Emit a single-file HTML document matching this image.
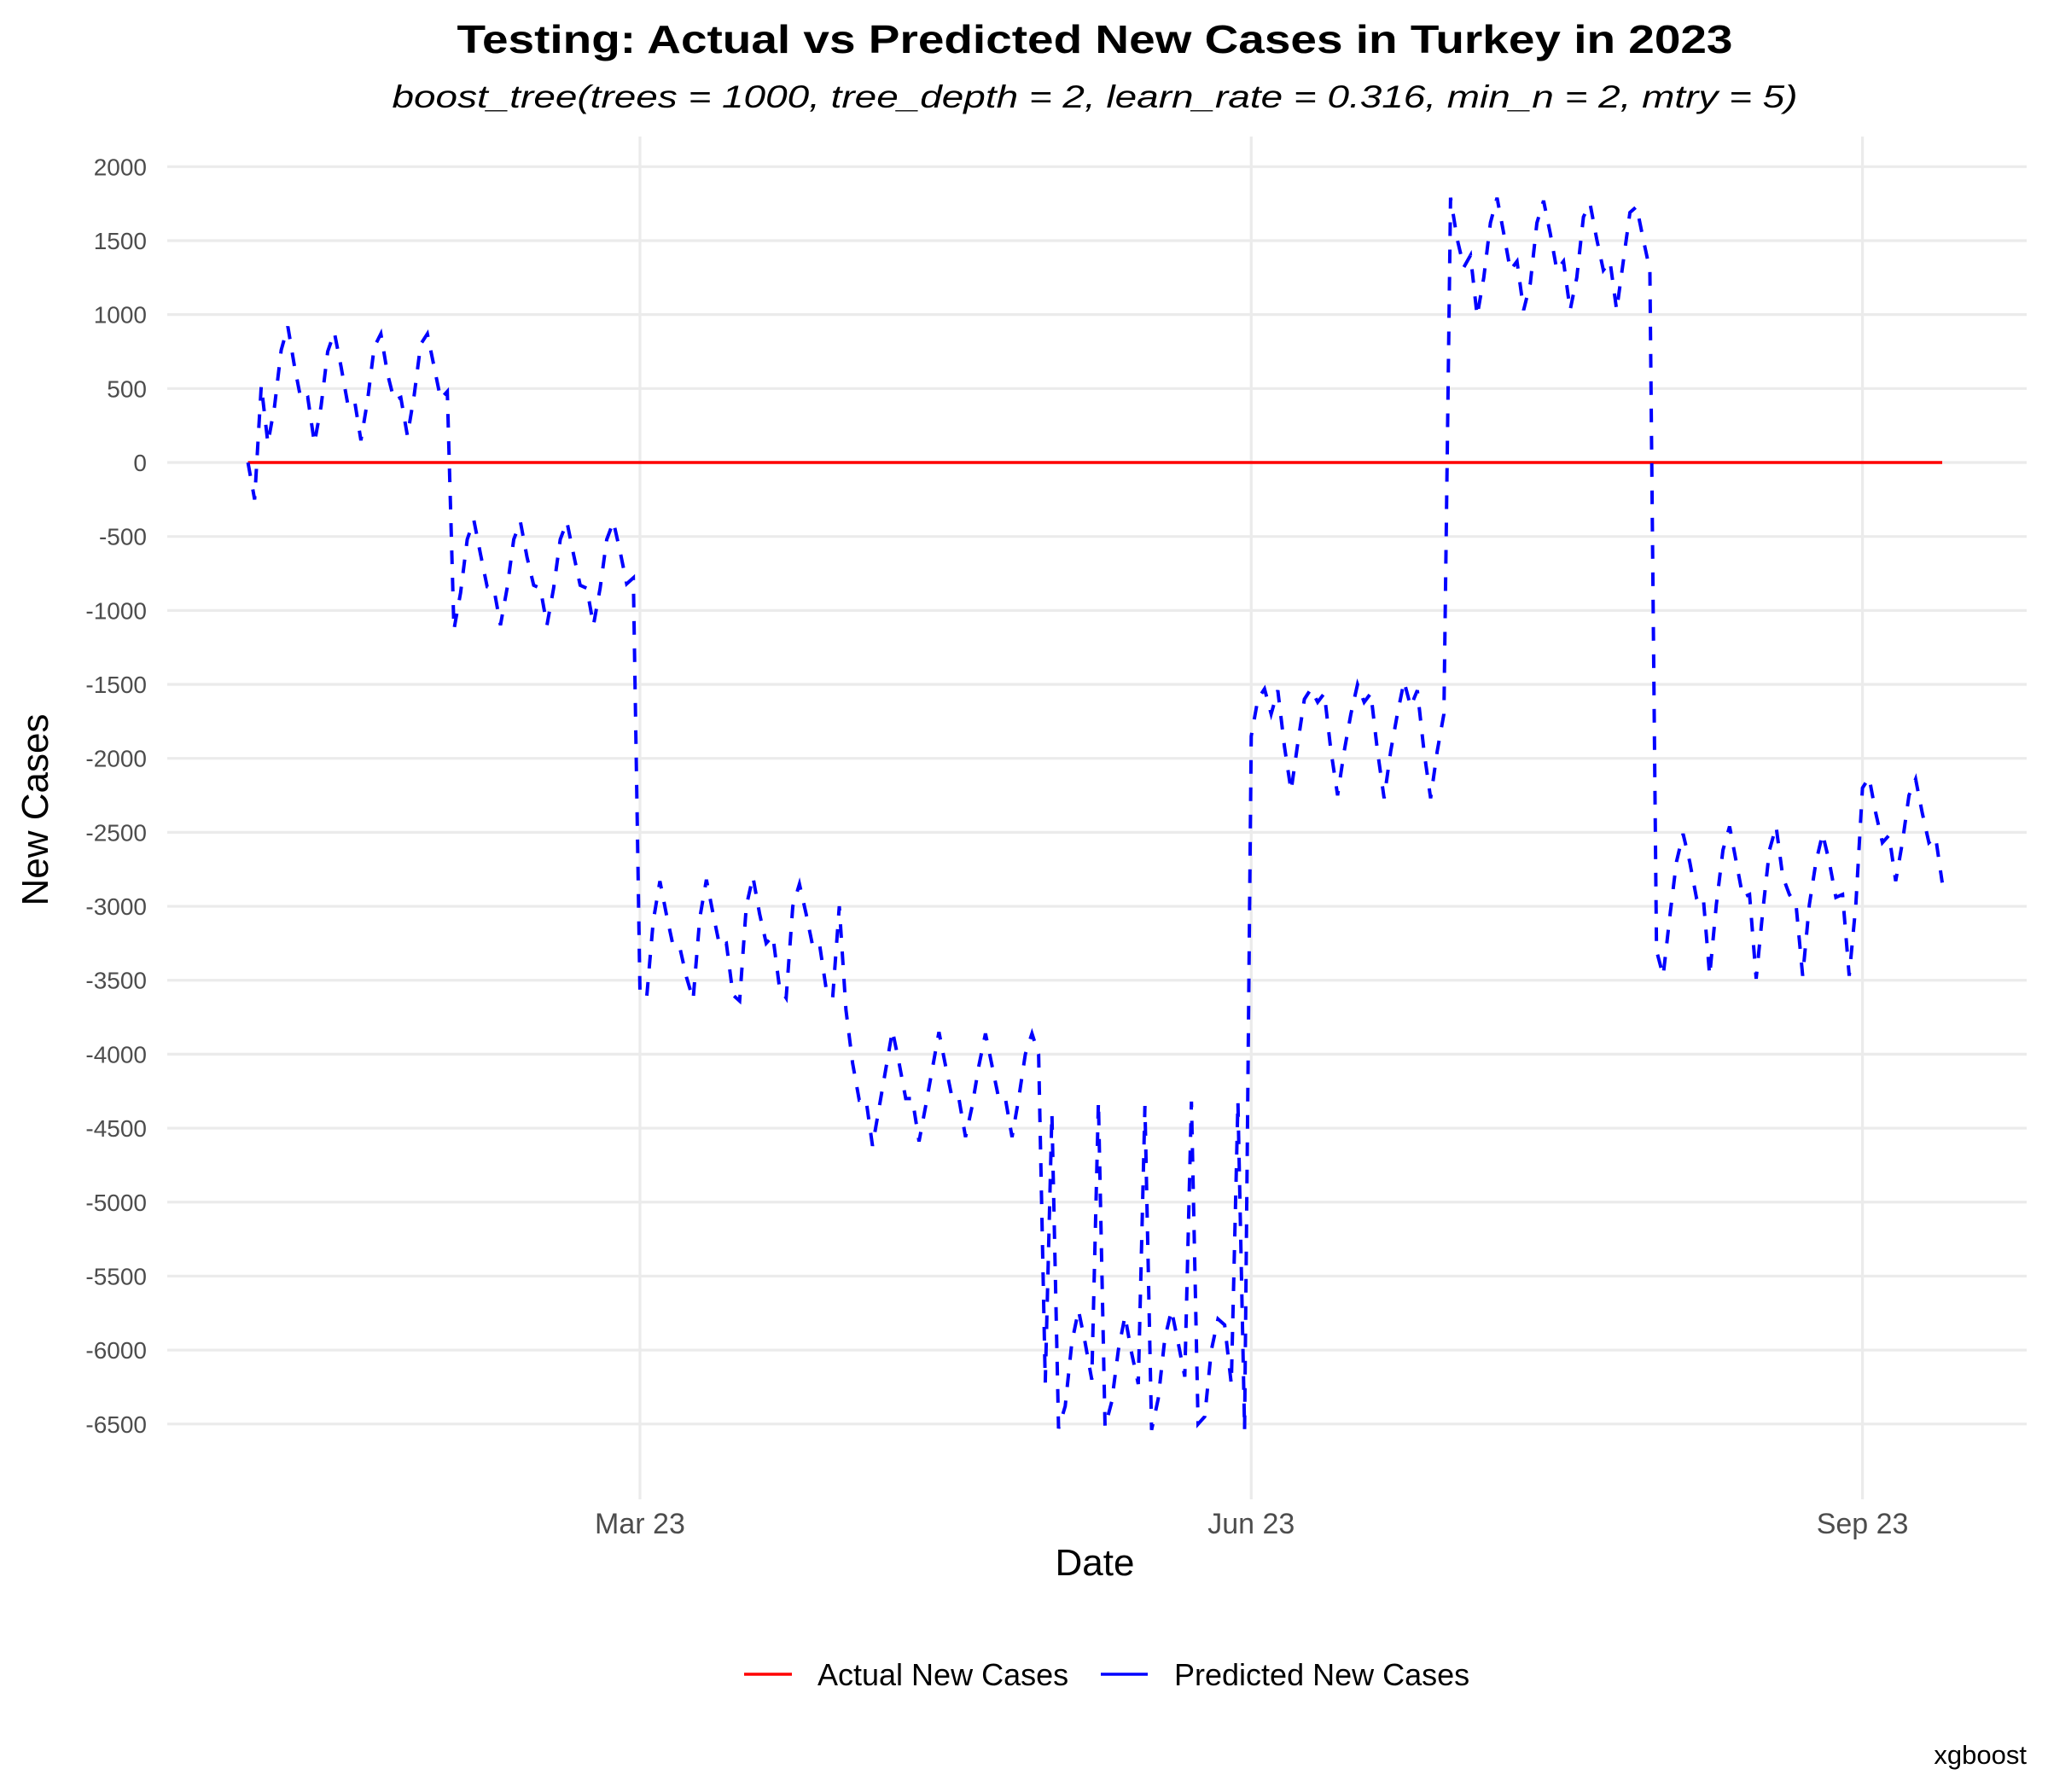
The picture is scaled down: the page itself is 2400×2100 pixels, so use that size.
<!DOCTYPE html>
<html><head><meta charset="utf-8"><style>
html,body{margin:0;padding:0;background:#fff;}
svg{display:block;font-family:"Liberation Sans",Arial,sans-serif;}
</style></head><body>
<svg id="chart" width="2400" height="2100" viewBox="0 0 2400 2100" xmlns="http://www.w3.org/2000/svg">
<rect x="0" y="0" width="2400" height="2100" fill="#fff"/>
<text x="1283" y="62" text-anchor="middle" font-size="46" font-weight="bold" fill="#000" textLength="1495" lengthAdjust="spacingAndGlyphs">Testing: Actual vs Predicted New Cases in Turkey in 2023</text>
<text x="1283" y="126" text-anchor="middle" font-size="37" font-style="italic" fill="#000" textLength="1647" lengthAdjust="spacingAndGlyphs">boost_tree(trees = 1000, tree_depth = 2, learn_rate = 0.316, min_n = 2, mtry = 5)</text>
<g id="grid"></g>
<g id="yticks"></g>
<g id="xticks"></g>
<g id="series"></g>
<text x="1283" y="1846" text-anchor="middle" font-size="44" fill="#000">Date</text>
<text x="0" y="0" text-anchor="middle" font-size="44" fill="#000" transform="translate(56,949) rotate(-90)">New Cases</text>
<g>
<g>
<line x1="872" y1="1962" x2="928" y2="1962" stroke="#ff0000" stroke-width="3.5"/>
<text x="958" y="1975" font-size="36" fill="#000">Actual New Cases</text>
</g>
<g>
<line x1="1290" y1="1962" x2="1345" y2="1962" stroke="#0000ff" stroke-width="3.5"/>
<text x="1376" y="1975" font-size="36" fill="#000">Predicted New Cases</text>
</g>
</g>
<text x="2375" y="2067" text-anchor="end" font-size="31" fill="#000">xgboost</text>
</svg>
<script>
const yTicks = [2000,1500,1000,500,0,-500,-1000,-1500,-2000,-2500,-3000,-3500,-4000,-4500,-5000,-5500,-6000,-6500];
const xTickLabels = ["Mar 23","Jun 23","Sep 23"];
const xTickDays = [59,151,243];
const startDay = 0;
const predicted = [
0,-250,520,130,380,760,920,
650,420,440,130,380,750,880,
650,400,430,150,420,780,870,
600,420,440,180,450,800,870,
650,430,480,
-1130,-880,-520,-390,-620,-840,-850,
-1100,-850,-520,-400,-640,-830,-850,
-1100,-850,-520,-400,-620,-830,-850,
-1100,-850,-520,-400,-600,-820,-780,
-3580,-3620,-3100,-2830,-3060,-3270,-3280,
-3480,-3630,-3080,-2820,-3050,-3270,-3250,
-3600,-3640,-3000,-2800,-3050,-3250,-3200,
-3550,-3620,-3000,-2850,-3050,-3270,-3250,
-3550,-3620,-3000,
-3700,-4060,-4310,-4300,-4620,-4360,-4100,
-3840,-4060,-4300,-4300,-4590,-4350,-4100,
-3850,-4080,-4300,-4300,-4560,-4350,-4080,
-3860,-4080,-4300,-4300,-4560,-4300,-4000,
-3860,-4000,
-6220,-4400,-6530,-6380,-5950,-5730,-5950,-6200,
-4320,-6520,-6350,-6000,-5770,-6020,-6230,
-4350,-6540,-6330,-5920,-5730,-5950,-6180,
-4320,-6500,-6450,-6000,-5790,-5830,-6230,
-4320,-6540,
-1850,-1600,-1530,-1700,-1540,-1920,-2220,
-1900,-1600,-1530,-1620,-1560,-1950,-2250,
-1950,-1700,-1500,-1620,-1560,-1950,-2270,
-1950,-1700,-1480,-1650,-1540,-1950,-2270,
-1950,-1700,
1790,1510,1320,1400,990,1250,1620,
1790,1550,1300,1360,1030,1210,1620,
1770,1550,1300,1360,1030,1250,1660,
1750,1510,1300,1360,1030,1360,1690,
1730,1510,1300,
-3300,-3470,-3070,-2700,-2510,-2700,-2940,-2920,
-3470,-2990,-2620,-2460,-2700,-2940,-2920,
-3490,-3030,-2620,-2460,-2800,-2920,-2990,
-3470,-2990,-2700,-2510,-2700,-2940,-2920,
-3470,-2990,
-2200,-2130,-2370,-2570,-2520,-2830,-2570,
-2250,-2140,-2370,-2570,-2530,-2840
];
const actual = predicted.map(function(){return 0;});

const NS = "http://www.w3.org/2000/svg";
const plotLeft = 196, plotRight = 2375, plotTop = 160, plotBottom = 1757;
function yScale(v){ return 542 - v * 0.17335; }
function xScale(d){ return 290.6 + d * 7.786; }

const grid = document.getElementById('grid');
const yt = document.getElementById('yticks');
yTicks.forEach(function(v){
  const l = document.createElementNS(NS,'line');
  l.setAttribute('x1',plotLeft); l.setAttribute('x2',plotRight);
  l.setAttribute('y1',yScale(v)); l.setAttribute('y2',yScale(v));
  l.setAttribute('stroke','#ebebeb'); l.setAttribute('stroke-width','3.2');
  
  
  grid.appendChild(l);
  const t = document.createElementNS(NS,'text');
  t.setAttribute('x',172); t.setAttribute('y',yScale(v)+10);
  t.setAttribute('text-anchor','end'); t.setAttribute('font-size','28'); t.setAttribute('fill','#4d4d4d');
  t.textContent = String(v);
  
  
  yt.appendChild(t);
});
const xt = document.getElementById('xticks');
xTickDays.forEach(function(d,i){
  const l = document.createElementNS(NS,'line');
  l.setAttribute('x1',xScale(d)); l.setAttribute('x2',xScale(d));
  l.setAttribute('y1',plotTop); l.setAttribute('y2',plotBottom);
  l.setAttribute('stroke','#ebebeb'); l.setAttribute('stroke-width','3.2');
  
  
  grid.appendChild(l);
  const t = document.createElementNS(NS,'text');
  t.setAttribute('x',xScale(d)); t.setAttribute('y',1797);
  t.setAttribute('text-anchor','middle'); t.setAttribute('font-size','34'); t.setAttribute('fill','#4d4d4d');
  t.textContent = xTickLabels[i];
  
  
  xt.appendChild(t);
});

const series = document.getElementById('series');
function pathFor(arr){
  return arr.map(function(v,i){ return (i?'L':'M') + xScale(startDay+i).toFixed(2) + ' ' + yScale(v).toFixed(2); }).join(' ');
}
const pa = document.createElementNS(NS,'path');
pa.setAttribute('d', pathFor(actual));
pa.setAttribute('fill','none'); pa.setAttribute('stroke','#ff0000'); pa.setAttribute('stroke-width','3.5');


series.appendChild(pa);
const pp = document.createElementNS(NS,'path');
pp.setAttribute('d', pathFor(predicted));
pp.setAttribute('fill','none'); pp.setAttribute('stroke','#0000ff'); pp.setAttribute('stroke-width','4');
pp.setAttribute('stroke-dasharray','16 16');


series.appendChild(pp);
</script>
</body></html>
